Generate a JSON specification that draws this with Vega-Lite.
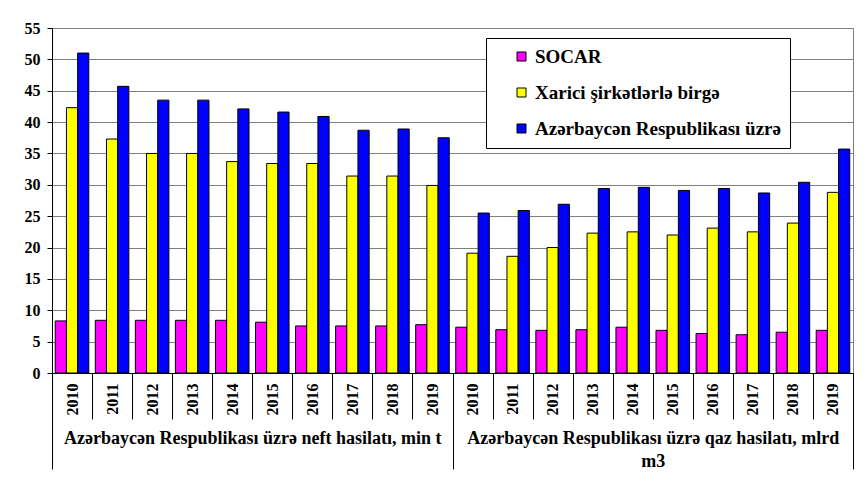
{
  "$schema": "https://vega.github.io/schema/vega-lite/v6.json",
  "width": 801,
  "height": 345,
  "autosize": "none",
  "padding": {"left": 52, "top": 28, "right": 15, "bottom": 112},
  "background": "white",
  "config": {"view": {"stroke": "#808080", "strokeWidth": 1}},
  "data": {"values": [
    {"g":"neft","k":"n2010","s":"SOCAR","v":8.3},
    {"g":"neft","k":"n2010","s":"Xarici şirkətlərlə birgə","v":42.3},
    {"g":"neft","k":"n2010","s":"Azərbaycən Respublikası üzrə","v":51.0},
    {"g":"neft","k":"n2011","s":"SOCAR","v":8.4},
    {"g":"neft","k":"n2011","s":"Xarici şirkətlərlə birgə","v":37.3},
    {"g":"neft","k":"n2011","s":"Azərbaycən Respublikası üzrə","v":45.7},
    {"g":"neft","k":"n2012","s":"SOCAR","v":8.4},
    {"g":"neft","k":"n2012","s":"Xarici şirkətlərlə birgə","v":35.0},
    {"g":"neft","k":"n2012","s":"Azərbaycən Respublikası üzrə","v":43.5},
    {"g":"neft","k":"n2013","s":"SOCAR","v":8.4},
    {"g":"neft","k":"n2013","s":"Xarici şirkətlərlə birgə","v":35.0},
    {"g":"neft","k":"n2013","s":"Azərbaycən Respublikası üzrə","v":43.5},
    {"g":"neft","k":"n2014","s":"SOCAR","v":8.4},
    {"g":"neft","k":"n2014","s":"Xarici şirkətlərlə birgə","v":33.7},
    {"g":"neft","k":"n2014","s":"Azərbaycən Respublikası üzrə","v":42.1},
    {"g":"neft","k":"n2015","s":"SOCAR","v":8.1},
    {"g":"neft","k":"n2015","s":"Xarici şirkətlərlə birgə","v":33.4},
    {"g":"neft","k":"n2015","s":"Azərbaycən Respublikası üzrə","v":41.6},
    {"g":"neft","k":"n2016","s":"SOCAR","v":7.5},
    {"g":"neft","k":"n2016","s":"Xarici şirkətlərlə birgə","v":33.4},
    {"g":"neft","k":"n2016","s":"Azərbaycən Respublikası üzrə","v":40.9},
    {"g":"neft","k":"n2017","s":"SOCAR","v":7.5},
    {"g":"neft","k":"n2017","s":"Xarici şirkətlərlə birgə","v":31.4},
    {"g":"neft","k":"n2017","s":"Azərbaycən Respublikası üzrə","v":38.7},
    {"g":"neft","k":"n2018","s":"SOCAR","v":7.5},
    {"g":"neft","k":"n2018","s":"Xarici şirkətlərlə birgə","v":31.4},
    {"g":"neft","k":"n2018","s":"Azərbaycən Respublikası üzrə","v":38.9},
    {"g":"neft","k":"n2019","s":"SOCAR","v":7.7},
    {"g":"neft","k":"n2019","s":"Xarici şirkətlərlə birgə","v":29.9},
    {"g":"neft","k":"n2019","s":"Azərbaycən Respublikası üzrə","v":37.5},
    {"g":"qaz","k":"q2010","s":"SOCAR","v":7.3},
    {"g":"qaz","k":"q2010","s":"Xarici şirkətlərlə birgə","v":19.1},
    {"g":"qaz","k":"q2010","s":"Azərbaycən Respublikası üzrə","v":25.5},
    {"g":"qaz","k":"q2011","s":"SOCAR","v":6.9},
    {"g":"qaz","k":"q2011","s":"Xarici şirkətlərlə birgə","v":18.6},
    {"g":"qaz","k":"q2011","s":"Azərbaycən Respublikası üzrə","v":25.9},
    {"g":"qaz","k":"q2012","s":"SOCAR","v":6.8},
    {"g":"qaz","k":"q2012","s":"Xarici şirkətlərlə birgə","v":20.0},
    {"g":"qaz","k":"q2012","s":"Azərbaycən Respublikası üzrə","v":26.9},
    {"g":"qaz","k":"q2013","s":"SOCAR","v":6.9},
    {"g":"qaz","k":"q2013","s":"Xarici şirkətlərlə birgə","v":22.3},
    {"g":"qaz","k":"q2013","s":"Azərbaycən Respublikası üzrə","v":29.4},
    {"g":"qaz","k":"q2014","s":"SOCAR","v":7.3},
    {"g":"qaz","k":"q2014","s":"Xarici şirkətlərlə birgə","v":22.5},
    {"g":"qaz","k":"q2014","s":"Azərbaycən Respublikası üzrə","v":29.6},
    {"g":"qaz","k":"q2015","s":"SOCAR","v":6.8},
    {"g":"qaz","k":"q2015","s":"Xarici şirkətlərlə birgə","v":22.0},
    {"g":"qaz","k":"q2015","s":"Azərbaycən Respublikası üzrə","v":29.1},
    {"g":"qaz","k":"q2016","s":"SOCAR","v":6.3},
    {"g":"qaz","k":"q2016","s":"Xarici şirkətlərlə birgə","v":23.1},
    {"g":"qaz","k":"q2016","s":"Azərbaycən Respublikası üzrə","v":29.4},
    {"g":"qaz","k":"q2017","s":"SOCAR","v":6.1},
    {"g":"qaz","k":"q2017","s":"Xarici şirkətlərlə birgə","v":22.5},
    {"g":"qaz","k":"q2017","s":"Azərbaycən Respublikası üzrə","v":28.7},
    {"g":"qaz","k":"q2018","s":"SOCAR","v":6.5},
    {"g":"qaz","k":"q2018","s":"Xarici şirkətlərlə birgə","v":23.9},
    {"g":"qaz","k":"q2018","s":"Azərbaycən Respublikası üzrə","v":30.4},
    {"g":"qaz","k":"q2019","s":"SOCAR","v":6.8},
    {"g":"qaz","k":"q2019","s":"Xarici şirkətlərlə birgə","v":28.8},
    {"g":"qaz","k":"q2019","s":"Azərbaycən Respublikası üzrə","v":35.7}
  ]},
  "layer": [
    {
      "mark": {"type": "bar", "stroke": "black", "strokeWidth": 1},
      "encoding": {
        "x": {
          "field": "k", "type": "nominal", "sort": null,
          "scale": {"paddingInner": 0, "paddingOuter": 0},
          "axis": {
            "title": null, "orient": "bottom",
            "labelExpr": "datum.value ? substring(datum.value, 1) : ''",
            "labelAngle": 270, "labelAlign": "right", "labelBaseline": "middle",
            "tickBand": "extent", "tickSize": 46, "labelPadding": -36,
            "labelFont": "Liberation Serif", "labelFontWeight": "bold", "labelFontSize": 16,
            "labelColor": "black", "domainColor": "black", "tickColor": "black", "grid": false
          }
        },
        "xOffset": {
          "field": "s", "type": "nominal",
          "sort": ["SOCAR", "Xarici şirkətlərlə birgə", "Azərbaycən Respublikası üzrə"],
          "scale": {"paddingInner": 0, "paddingOuter": 0.29}
        },
        "y": {
          "field": "v", "type": "quantitative",
          "scale": {"domain": [0, 55]},
          "axis": {
            "title": null, "values": [0,5,10,15,20,25,30,35,40,45,50,55],
            "labelFont": "Liberation Serif", "labelFontWeight": "bold", "labelFontSize": 16,
            "labelColor": "black", "labelPadding": 7, "tickSize": 5, "tickColor": "black",
            "domainColor": "black", "gridColor": "#808080", "gridOpacity": 1
          }
        },
        "color": {
          "field": "s", "type": "nominal",
          "scale": {
            "domain": ["SOCAR", "Xarici şirkətlərlə birgə", "Azərbaycən Respublikası üzrə"],
            "range": ["#FF00FF", "#FFFF00", "#0000FF"]
          },
          "legend": {
            "orient": "none", "legendX": 434, "legendY": 10, "title": null,
            "direction": "vertical", "fillColor": "white", "strokeColor": "black",
            "padding": 9, "rowPadding": 16, "symbolType": "square", "symbolSize": 81,
            "symbolStrokeColor": "black", "symbolStrokeWidth": 1, "symbolOffset": 17,
            "labelFont": "Liberation Serif", "labelFontWeight": "bold", "labelFontSize": 19,
            "labelColor": "black", "labelOffset": 4, "labelLimit": 0,
            "labelExpr": "datum.label + '\u00a0\u00a0\u00a0\u00a0\u00a0'"
          }
        }
      }
    },
    {
      "mark": {"type": "rule", "opacity": 0},
      "encoding": {
        "x": {
          "field": "g", "type": "nominal", "sort": null,
          "scale": {"paddingInner": 0, "paddingOuter": 0},
          "axis": {
            "title": null, "orient": "bottom", "domain": false, "grid": false,
            "tickBand": "extent", "tickSize": 96, "tickColor": "black",
            "labelAngle": 0, "labelAlign": "center", "labelBaseline": "top", "labelPadding": -40,
            "labelExpr": "datum.value == 'neft' ? 'Azərbaycən Respublikası üzrə neft hasilatı, min t' : datum.value == 'qaz' ? ['Azərbaycən Respublikası üzrə qaz hasilatı, mlrd', 'm3'] : ''",
            "labelFont": "Liberation Serif", "labelFontWeight": "bold", "labelFontSize": 18,
            "labelLineHeight": 23, "labelColor": "black", "labelLimit": 0
          }
        }
      }
    }
  ],
  "resolve": {"scale": {"x": "independent"}}
}
